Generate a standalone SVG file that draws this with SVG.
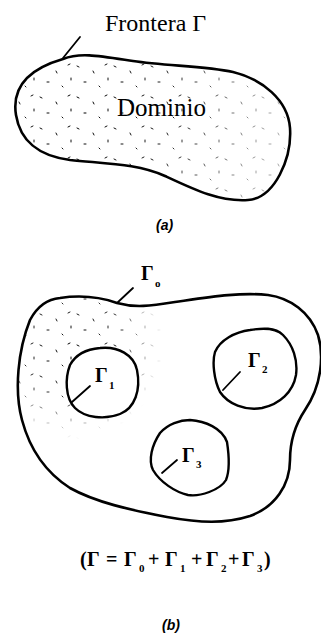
<svg xmlns="http://www.w3.org/2000/svg" width="321" height="636" viewBox="0 0 321 636">
  <style>
    .outline { fill: none; stroke: #000; stroke-width: 2.6; stroke-linejoin: round; }
    .hole { fill: #fff; stroke: #000; stroke-width: 2.4; stroke-linejoin: round; }
    .lead { stroke: #000; stroke-width: 1.8; stroke-linecap: round; }
    .lbl { font-family: "Liberation Serif", "Times New Roman", serif; fill: #000; }
    .g { font-family: "Liberation Serif", "Times New Roman", serif; font-weight: bold; font-size: 20px; fill: #000; }
    .sub { font-family: "Liberation Serif", "Times New Roman", serif; font-weight: bold; font-size: 11px; fill: #000; }
    .cap { font-family: "Liberation Sans", Arial, sans-serif; font-weight: bold; font-style: italic; font-size: 14px; fill: #000; }
  </style>
  <defs>
    <pattern id="stip" width="37" height="31" patternUnits="userSpaceOnUse">
      <g stroke="#000" stroke-width="1" stroke-linecap="round">
        <path d="M3,4 l2,1 M19,9 l1,2 M31,3 l2,-1 M10,20 l2,0 M25,24 l1,1 M34,16 l0,2"/>
      </g>
    </pattern>
    <radialGradient id="fade" cx="70" cy="345" r="95" gradientUnits="userSpaceOnUse">
      <stop offset="0" stop-color="#fff"/>
      <stop offset="0.55" stop-color="#fff" stop-opacity="0.8"/>
      <stop offset="1" stop-color="#fff" stop-opacity="0"/>
    </radialGradient>
    <mask id="fadeMask">
      <rect x="0" y="280" width="321" height="260" fill="url(#fade)"/>
    </mask>
    <radialGradient id="fadeA" cx="80" cy="110" r="190" gradientUnits="userSpaceOnUse">
      <stop offset="0" stop-color="#fff"/>
      <stop offset="0.5" stop-color="#fff" stop-opacity="0.85"/>
      <stop offset="1" stop-color="#fff" stop-opacity="0.35"/>
    </radialGradient>
    <mask id="fadeMaskA">
      <rect x="0" y="40" width="321" height="170" fill="url(#fadeA)"/>
    </mask>
    <clipPath id="outerB">
      <path d="M 60,298 C 80,295 100,297 117,303 C 135,308 150,306 175,302 C 210,297 240,292 268,295 C 290,298 310,312 318,335 C 324,355 322,385 305,410 C 295,425 290,440 290,460 C 290,485 275,507 250,516 C 225,524 200,523 167,517 C 130,510 95,502 70,488 C 45,472 30,450 22,420 C 14,390 18,350 30,320 C 38,305 48,299 60,298 Z"/>
    </clipPath>
  </defs>
  <rect width="321" height="636" fill="#fff"/>

  <g id="domain-a">
    <path d="M 63,59 C 80,52 100,56 133,61 S 205,66 233,72 C 262,79 288,100 290,128 C 292,158 275,198 248,200 C 220,202 195,190 165,176 C 138,164 110,164 70,160 C 38,156 20,140 16,115 C 12,90 25,70 63,59 Z" fill="url(#stip)" mask="url(#fadeMaskA)"/>
    <path class="outline" d="M 63,59 C 80,52 100,56 133,61 S 205,66 233,72 C 262,79 288,100 290,128 C 292,158 275,198 248,200 C 220,202 195,190 165,176 C 138,164 110,164 70,160 C 38,156 20,140 16,115 C 12,90 25,70 63,59 Z"/>
    <text class="lbl" x="117" y="116" font-size="25">Dominio</text>
  </g>

  <g id="label-frontera">
    <text class="lbl" x="105" y="31" font-size="24">Frontera Γ</text>
  </g>

  <g id="caption-a">
    <text class="cap" x="156" y="230">(a)</text>
  </g>

  <g id="domain-b">
    <g clip-path="url(#outerB)">
      <rect x="0" y="280" width="321" height="260" fill="url(#stip)" mask="url(#fadeMask)"/>
    </g>
    <path class="outline" d="M 60,298 C 80,295 100,297 117,303 C 135,308 150,306 175,302 C 210,297 240,292 268,295 C 290,298 310,312 318,335 C 324,355 322,385 305,410 C 295,425 290,440 290,460 C 290,485 275,507 250,516 C 225,524 200,523 167,517 C 130,510 95,502 70,488 C 45,472 30,450 22,420 C 14,390 18,350 30,320 C 38,305 48,299 60,298 Z"/>
  </g>

  <g id="hole-1">
    <path class="hole" d="M 100,348 C 118,346 134,355 137,370 C 141,390 135,408 120,414 C 105,420 85,418 75,408 C 65,398 65,378 70,365 C 76,354 88,349 100,348 Z"/>
    <text class="g" x="95" y="382">Γ</text><text class="sub" x="109" y="389">1</text>
  </g>

  <g id="hole-2">
    <path class="hole" d="M 250,330 C 262,328 275,327 283,335 C 293,345 298,360 296,375 C 293,392 280,404 262,408 C 245,411 228,404 220,392 C 214,380 212,362 215,352 C 220,340 235,332 250,330 Z"/>
    <text class="g" x="248" y="367">Γ</text><text class="sub" x="262" y="373">2</text>
  </g>

  <g id="hole-3">
    <path class="hole" d="M 190,420 C 205,421 222,428 227,442 C 229,455 230,470 226,480 C 220,490 200,497 188,495 C 175,492 160,482 153,470 C 148,460 152,445 160,433 C 168,424 180,420 190,420 Z"/>
    <text class="g" x="182" y="462">Γ</text><text class="sub" x="196" y="468">3</text>
  </g>

  <g id="label-gamma0">
    <text class="g" x="141" y="280">Γ</text><text class="sub" x="155" y="287">o</text>
  </g>

  <g id="connectors">
    <line class="lead" x1="63" y1="58" x2="80" y2="37"/>
    <line class="lead" x1="117" y1="303" x2="133" y2="288"/>
    <line class="lead" x1="72" y1="402" x2="90" y2="386"/>
    <line class="lead" x1="223" y1="390" x2="240" y2="372"/>
    <line class="lead" x1="162" y1="473" x2="177" y2="460"/>
  </g>

  <g id="formula">
    <text class="g" font-size="21" x="80" y="566">(</text>
    <text class="g" font-size="21" x="87" y="566">Γ</text>
    <text class="g" font-size="21" x="106" y="566">=</text>
    <text class="g" font-size="21" x="124" y="566">Γ</text>
    <text class="sub" x="139" y="572">0</text>
    <text class="g" font-size="21" x="148" y="566">+</text>
    <text class="g" font-size="21" x="165" y="566">Γ</text>
    <text class="sub" x="180" y="572">1</text>
    <text class="g" font-size="21" x="191" y="566">+</text>
    <text class="g" font-size="21" x="206" y="566">Γ</text>
    <text class="sub" x="221" y="572">2</text>
    <text class="g" font-size="21" x="228" y="566">+</text>
    <text class="g" font-size="21" x="242" y="566">Γ</text>
    <text class="sub" x="257" y="572">3</text>
    <text class="g" font-size="21" x="264" y="566">)</text>
  </g>

  <g id="caption-b">
    <text class="cap" x="162" y="630">(b)</text>
  </g>
</svg>
